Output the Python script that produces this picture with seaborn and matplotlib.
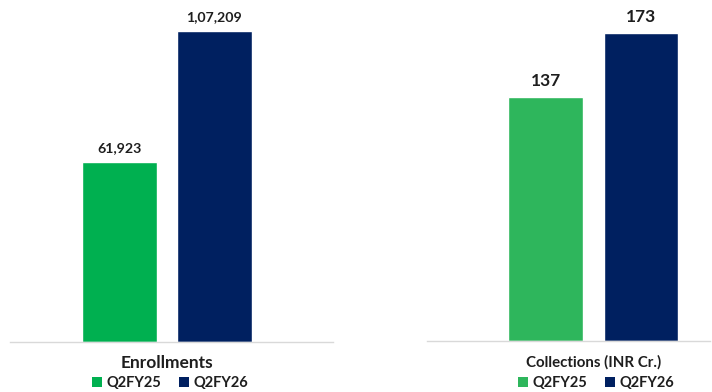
import matplotlib
matplotlib.use("Agg")
import matplotlib.pyplot as plt
import seaborn as sns
import pandas as pd
from matplotlib.patches import Patch

periods = ["Q2FY25", "Q2FY26"]
enrollments = [61923, 107209]
enroll_labels = ["61,923", "1,07,209"]
collections = [137, 173]
collect_labels = ["137", "173"]
left_colors = ["#00B050", "#002060"]
right_colors = ["#2EB65C", "#002060"]

sns.set_theme(style="white")
plt.rcParams["font.family"] = ["Lato", "DejaVu Sans"]

W, H = 712, 392
fig = plt.figure(figsize=(W / 100, H / 100), dpi=100)

def px_axes(x0, x1, ybot, ytop):
    return fig.add_axes([x0 / W, 1 - ybot / H, (x1 - x0) / W, (ybot - ytop) / H])

def draw(ax, vals, labels, colors, width, xlim, ylim, fs, pad):
    df = pd.DataFrame({"period": periods, "value": vals})
    sns.barplot(data=df, x="period", y="value", hue="period", palette=colors,
                width=width, ax=ax, legend=False, saturation=1)
    ax.set_xlim(*xlim)
    ax.set_ylim(0, ylim)
    for i, (v, lab) in enumerate(zip(vals, labels)):
        ax.annotate(lab, (i, v), xytext=(0, pad), textcoords="offset points",
                    ha="center", va="bottom", fontsize=fs, fontweight="bold", color="#1E1E1E")
    for s in ["top", "right", "left"]:
        ax.spines[s].set_visible(False)
    ax.spines["bottom"].set_color("#D9D9D9")
    ax.spines["bottom"].set_linewidth(1.0)
    ax.set_xticks([])
    ax.set_yticks([])
    ax.set_xlabel("")
    ax.set_ylabel("")

ax1 = px_axes(10, 333, 342, 0)
draw(ax1, enrollments, enroll_labels, left_colors, 0.794, (-1.159, 2.259),
     107209 * 342 / 311, 10.2, 6)

ax2 = px_axes(427, 710, 341, 0)
draw(ax2, collections, collect_labels, right_colors, 0.78, (-1.246, 1.728),
     173 * 341 / 308, 12.5, 6)

fig.text(167 / W, 1 - 363 / H, "Enrollments", ha="center", va="center",
         fontsize=12.5, fontweight="bold", color="#1E1E1E")
fig.text(594 / W, 1 - 362 / H, "Collections (INR Cr.)", ha="center", va="center",
         fontsize=10.8, fontweight="bold", color="#1E1E1E")

def legend(cx, colors):
    handles = [Patch(facecolor=c, edgecolor="none", label=p) for c, p in zip(colors, periods)]
    fig.legend(handles=handles, loc="center", bbox_to_anchor=(cx / W, 1 - 383 / H),
               ncol=2, frameon=False, handlelength=0.7, handleheight=0.7,
               handletextpad=0.3, columnspacing=1.2,
               prop={"size": 10.5, "weight": "bold"}, labelcolor="#1E1E1E")

legend(170, left_colors)
legend(596, right_colors)

fig.savefig("out.png", dpi=100, facecolor="white")
